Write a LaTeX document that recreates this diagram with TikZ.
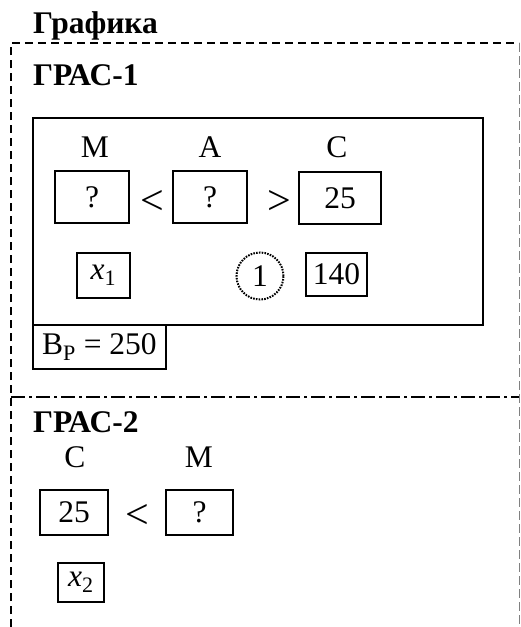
\documentclass[tikz,border=0pt]{standalone}
\usepackage{fontspec}
\setmainfont{Liberation Serif}
\usetikzlibrary{positioning}

\tikzset{
    valbox/.style={draw, line width=1.3pt, inner sep=0pt, font=\fontsize{31.5}{34}\selectfont},
    lbl/.style={anchor=base, inner sep=0pt, font=\fontsize{31.5}{34}\selectfont},
    rel/.style={anchor=center, inner sep=0pt, font=\fontsize{42}{44}\selectfont},
    head/.style={anchor=base west, inner sep=0pt, font=\fontsize{31.5}{34}\selectfont\bfseries},
}

\begin{document}
\begin{tikzpicture}[x=1pt, y=-1pt]
    \useasboundingbox (0,0) rectangle (520,627);

    % Outer frame
    \node[head] (title) at (33,33) {Графика};
    \draw[line width=2pt, dash pattern=on 8pt off 5pt] (11,627) -- (11,43) -- (519,43);
    \draw[line width=0.8pt, gray, dash pattern=on 9pt off 4pt] (519,43) -- (519,627);
    \draw[line width=2pt, dash pattern=on 14pt off 4pt on 3pt off 4pt] (11,397) -- (519,397);

    % GRAS-1
    \node[head] (gras1) at (33,85) {ГРАС-1};
    \draw[line width=1.5pt] (33,118) rectangle (483,325);

    \node[lbl] (m1) at (95,157) {М};
    \node[lbl] (a1) at (210,157) {А};
    \node[lbl] (c1) at (337,157) {С};

    \node[valbox, minimum width=74pt, minimum height=52pt] (v1) at (92,197) {?};
    \node[valbox, minimum width=74pt, minimum height=52pt] (v2) at (210,197) {?};
    \node[valbox, minimum width=82pt, minimum height=52pt] (v3) at (340,198) {25};
    \node[rel] (lt1) at (152,202) {<};
    \node[rel] (gt1) at (279,202) {>};

    \node[valbox, minimum width=53pt, minimum height=45pt] (x1) at (103.5,275.5) {\textit{x}\textsubscript{1}};
    \node[valbox, circle, line width=2pt, dash pattern=on 1.6pt off 1.2pt, minimum size=47pt] (n1) at (260,276) {1};
    \node[valbox, minimum width=61pt, minimum height=43pt] (w1) at (336.5,274.5) {140};

    \node[valbox, minimum width=133pt, minimum height=44pt] (bp) at (99.5,347) {В\textsubscript{Р} = 250};

    % GRAS-2
    \node[head] (gras2) at (33,432) {ГРАС-2};

    \node[lbl] (c2) at (75,467) {С};
    \node[lbl] (m2) at (199,467) {М};

    \node[valbox, minimum width=68pt, minimum height=45pt] (v4) at (74,512.5) {25};
    \node[valbox, minimum width=67pt, minimum height=45pt] (v5) at (199.5,512.5) {?};
    \node[rel] (lt2) at (137,516.5) {<};

    \node[valbox, minimum width=46pt, minimum height=39pt] (x2) at (81,582.5) {\textit{x}\textsubscript{2}};
\end{tikzpicture}
\end{document}
